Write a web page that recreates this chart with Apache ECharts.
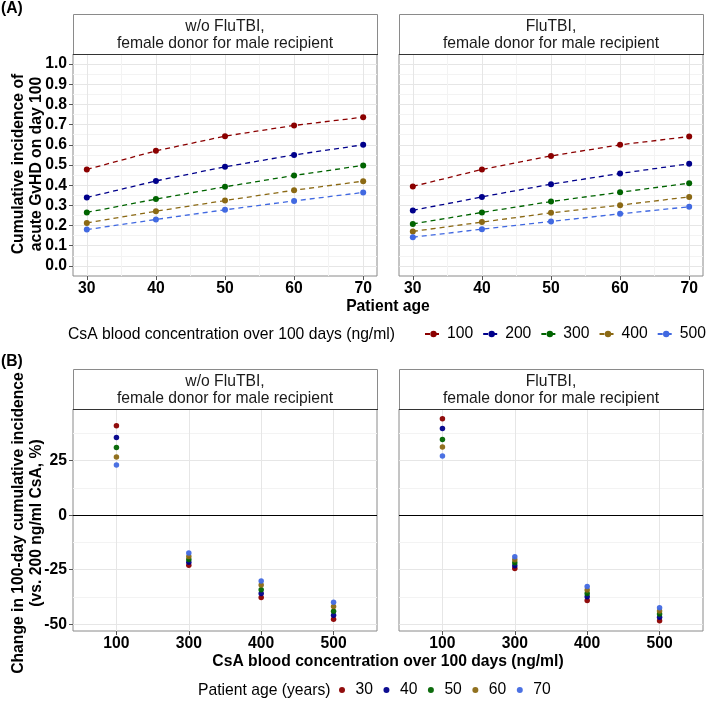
<!DOCTYPE html>
<html><head><meta charset="utf-8">
<script src="https://cdn.jsdelivr.net/npm/echarts@6/dist/echarts.min.js"></script>
<style>html,body{margin:0;padding:0;background:#fff}#c{width:709px;height:706px}</style>
</head><body><div id="c"></div>
<script>
// ---------- DATA ----------
const ages = [30, 40, 50, 60, 70];
const ageNames = ['30', '40', '50', '60', '70'];
const csaLevels = ['100', '200', '300', '400', '500'];
const csaCompare = ['100', '300', '400', '500'];

// Panel A: cumulative incidence of acute GvHD on day 100 (by patient age)
const aNoFlu100 = [0.478, 0.570, 0.643, 0.696, 0.737];
const aNoFlu200 = [0.339, 0.421, 0.491, 0.550, 0.600];
const aNoFlu300 = [0.265, 0.331, 0.392, 0.448, 0.498];
const aNoFlu400 = [0.213, 0.271, 0.324, 0.375, 0.420];
const aNoFlu500 = [0.180, 0.230, 0.278, 0.322, 0.364];
const aFlu100 = [0.394, 0.478, 0.545, 0.600, 0.641];
const aFlu200 = [0.275, 0.342, 0.405, 0.458, 0.506];
const aFlu300 = [0.208, 0.265, 0.319, 0.365, 0.410];
const aFlu400 = [0.171, 0.217, 0.263, 0.301, 0.342];
const aFlu500 = [0.142, 0.182, 0.220, 0.258, 0.293];

// Panel B: change vs 200 ng/ml CsA (%), by CsA level, one array per patient age
const bNoFlu30 = [41.0, -23.0, -37.7, -47.7];
const bNoFlu40 = [35.6, -21.6, -35.9, -45.9];
const bNoFlu50 = [31.0, -20.3, -34.2, -44.0];
const bNoFlu60 = [26.7, -18.9, -32.0, -41.9];
const bNoFlu70 = [23.0, -17.3, -30.2, -39.9];
const bFlu30 = [44.2, -24.4, -39.1, -48.4];
const bFlu40 = [39.8, -23.2, -37.4, -46.8];
const bFlu50 = [34.7, -21.8, -35.9, -45.3];
const bFlu60 = [31.3, -20.4, -34.3, -43.9];
const bFlu70 = [27.2, -19.0, -32.7, -42.4];

// Tick labels
const ageTicks = [30, 40, 50, 60, 70];
const ageMinor = [35, 45, 55, 65];
const incTicks = [0, 0.1, 0.2, 0.3, 0.4, 0.5, 0.6, 0.7, 0.8, 0.9, 1.0];
const incMinor = [0.05, 0.15, 0.25, 0.35, 0.45, 0.55, 0.65, 0.75, 0.85, 0.95];
const chgTicks = [-50, -25, 0, 25];
const chgMinor = [-37.5, -12.5, 12.5, 37.5];

const stripTitles = [['w/o FluTBI,', 'female donor for male recipient'], ['FluTBI,', 'female donor for male recipient']];

// ---------- STYLE / LAYOUT ----------
const FONT = "'Liberation Sans', Arial, Helvetica, sans-serif";
const FS = 15.7;
const COLORS = ['#8B0000', '#00008B', '#006400', '#8B6914', '#4169E1'];
const LEFTS = [73, 399], W = 304, H = 222, TOPS = [54, 409], SH = 40;
const MAJOR = '#e6e6e6', MINOR = '#f3f3f3', BORDER = '#8a8a8a', TICK = '#555';

const grids = [];
TOPS.forEach(t => LEFTS.forEach(l => grids.push({
  left: l, top: t, width: W, height: H, show: true,
  borderColor: BORDER, borderWidth: 1, backgroundColor: '#fff'
})));

const lblBold = {fontFamily: FONT, fontSize: FS, fontWeight: 'bold', color: '#000'};
function mainAxis(dim, gi, min, max, ticks, showLabel, fmt) {
  return {
    type: 'value', gridIndex: gi, min: min, max: max,
    position: dim === 'x' ? 'bottom' : 'left',
    axisLine: {show: false, onZero: false},
    axisTick: {show: showLabel, length: 4, lineStyle: {color: TICK, width: 1}, customValues: ticks},
    axisLabel: Object.assign({show: showLabel, customValues: ticks, margin: dim === 'x' ? 5 : 6, formatter: fmt}, lblBold),
    splitLine: {show: true, lineStyle: {color: MAJOR, width: 1}}
  };
}
function minorAxis(dim, gi, min, max, ticks) {
  return {
    type: 'value', gridIndex: gi, min: min, max: max,
    position: dim === 'x' ? 'top' : 'right',
    axisLine: {show: false}, axisLabel: {show: false},
    axisTick: {show: false, customValues: ticks},
    splitLine: {show: true, lineStyle: {color: MINOR, width: 1}}
  };
}
const catFmt = v => csaCompare[Math.round(v) - 1];
const xAxes = [
  mainAxis('x', 0, 28, 72, ageTicks, true, v => String(v)),
  mainAxis('x', 1, 28, 72, ageTicks, true, v => String(v)),
  mainAxis('x', 2, 0.4, 4.6, [1, 2, 3, 4], true, catFmt),
  mainAxis('x', 3, 0.4, 4.6, [1, 2, 3, 4], true, catFmt),
  minorAxis('x', 0, 28, 72, ageMinor),
  minorAxis('x', 1, 28, 72, ageMinor)
];
const yAxes = [
  mainAxis('y', 0, -0.05, 1.05, incTicks, true, v => v.toFixed(1)),
  mainAxis('y', 1, -0.05, 1.05, incTicks, false),
  mainAxis('y', 2, -53.1, 48.7, chgTicks, true, v => String(v)),
  mainAxis('y', 3, -53.1, 48.7, chgTicks, false),
  minorAxis('y', 0, -0.05, 1.05, incMinor),
  minorAxis('y', 1, -0.05, 1.05, incMinor),
  minorAxis('y', 2, -53.1, 48.7, chgMinor),
  minorAxis('y', 3, -53.1, 48.7, chgMinor)
];

const series = [];
const aSets = [[aNoFlu100, aNoFlu200, aNoFlu300, aNoFlu400, aNoFlu500], [aFlu100, aFlu200, aFlu300, aFlu400, aFlu500]];
aSets.forEach((set, gi) => set.forEach((arr, k) => series.push({
  type: 'line', name: csaLevels[k], xAxisIndex: gi, yAxisIndex: gi,
  data: ages.map((a, i) => [a, arr[i]]),
  symbol: 'circle', symbolSize: 6, showSymbol: true,
  lineStyle: {color: COLORS[k], width: 1.3, type: [5, 4]},
  itemStyle: {color: COLORS[k]}, z: 3
})));
const bSets = [[bNoFlu30, bNoFlu40, bNoFlu50, bNoFlu60, bNoFlu70], [bFlu30, bFlu40, bFlu50, bFlu60, bFlu70]];
bSets.forEach((set, j) => set.forEach((arr, k) => {
  const s = {
    type: 'scatter', name: ageNames[k], xAxisIndex: 2 + j, yAxisIndex: 2 + j,
    data: csaCompare.map((c, i) => [i + 1, arr[i]]),
    symbol: 'circle', symbolSize: 5.5,
    itemStyle: {color: COLORS[k], opacity: 0.95}, z: 3
  };
  if (k === 0) s.markLine = {
    silent: true, symbol: 'none', animation: false,
    label: {show: false},
    lineStyle: {color: '#000', type: 'solid', width: 1},
    data: [{yAxis: 0}]
  };
  series.push(s);
}));

// strips and texts (layout)
const graphic = [];
TOPS.forEach(t => LEFTS.forEach((l, j) => {
  graphic.push({type: 'rect', shape: {x: l + 0.5, y: t - SH + 0.5, width: W, height: SH},
    style: {fill: '#fff', stroke: BORDER, lineWidth: 1}, z: 10});
  graphic.push({type: 'line', shape: {x1: l, y1: t + 0.5, x2: l + W + 1, y2: t + 0.5},
    style: {stroke: '#333', lineWidth: 1}, z: 11});
  stripTitles[j].forEach((txt, r) => graphic.push({type: 'text', x: l + W / 2, y: t - SH + 12.5 + r * 16.7, z: 12,
    style: {text: txt, fontFamily: FONT, fontSize: FS, fill: '#1a1a1a', align: 'center', verticalAlign: 'middle'}}));
}));
function txt(s, x, y, o) {
  return Object.assign({type: 'text', x: x, y: y, z: 12,
    style: Object.assign({text: s, fontFamily: FONT, fontSize: FS, fill: '#000', verticalAlign: 'middle'}, o.style || {})},
    o.rotation ? {rotation: o.rotation} : {});
}
graphic.push(txt('(A)', 1, 9, {style: {fontWeight: 'bold'}}));
graphic.push(txt('(B)', 1, 362, {style: {fontWeight: 'bold'}}));
graphic.push(txt('Patient age', 388, 307, {style: {fontWeight: 'bold', align: 'center'}}));
graphic.push(txt('CsA blood concentration over 100 days (ng/ml)', 388, 662, {style: {fontWeight: 'bold', align: 'center'}}));
graphic.push(txt('Cumulative incidence of', 19, 164, {rotation: Math.PI / 2, style: {fontWeight: 'bold', align: 'center'}}));
graphic.push(txt('acute GvHD on day 100', 37, 164, {rotation: Math.PI / 2, style: {fontWeight: 'bold', align: 'center'}}));
graphic.push(txt('Change in 100-day cumulative incidence', 19, 523, {rotation: Math.PI / 2, style: {fontWeight: 'bold', align: 'center'}}));
graphic.push(txt('(vs. 200 ng/ml CsA, %)', 37, 523, {rotation: Math.PI / 2, style: {fontWeight: 'bold', align: 'center'}}));
graphic.push(txt('CsA blood concentration over 100 days (ng/ml)', 68, 335, {style: {}}));
graphic.push(txt('Patient age (years)', 198, 691, {style: {}}));

const legTxt = {fontFamily: FONT, fontSize: FS, color: '#000'};
const option = {
  animation: false,
  backgroundColor: '#fff',
  grid: grids,
  xAxis: xAxes,
  yAxis: yAxes,
  legend: [
    {data: csaLevels, left: 424, top: 326, width: 300, orient: 'horizontal', itemWidth: 17, itemHeight: 8, itemGap: 9, padding: 0,
      textStyle: legTxt, selectedMode: false},
    {data: ageNames, left: 339, top: 682, width: 300, orient: 'horizontal', itemWidth: 17, itemHeight: 6, itemGap: 10.5, padding: 0,
      textStyle: legTxt, selectedMode: false}
  ],
  series: series,
  graphic: graphic
};
const chart = echarts.init(document.getElementById('c'), null, {renderer: 'canvas'});
chart.setOption(option);
</script></body></html>
